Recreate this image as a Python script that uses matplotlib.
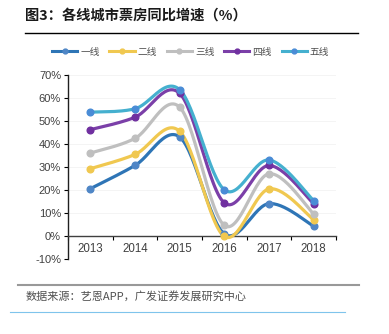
import numpy as np
import matplotlib
matplotlib.use("Agg")
import matplotlib.pyplot as plt
from matplotlib.lines import Line2D

plt.rcParams['font.family'] = ['Liberation Sans', 'Noto Sans CJK SC', 'DejaVu Sans']
CJK = ['Noto Sans CJK SC', 'DejaVu Sans']

years = ["2013", "2014", "2015", "2016", "2017", "2018"]
names = ["一线", "二线", "三线", "四线", "五线"]
tier1 = [20.5, 30.6, 43.0, 0.8, 14.0, 4.2]
tier2 = [29.2, 35.4, 45.5, -0.3, 20.4, 7.0]
tier3 = [36.0, 42.4, 56.0, 4.5, 27.0, 9.5]
tier4 = [46.2, 51.6, 62.0, 14.3, 30.6, 14.0]
tier5 = [53.8, 55.3, 63.6, 20.0, 33.0, 15.3]
series = [tier1, tier2, tier3, tier4, tier5]
line_cols = ["#2E75B6", "#F0C850", "#BFBFBF", "#7B3FA8", "#45B0CF"]
mark_cols = ["#4F86C6", "#F0C850", "#BFBFBF", "#7030A0", "#4A8CD6"]

def smooth(x, y, n=30):
    # excel-like smoothed line (catmull-rom as cubic bezier)
    P = np.column_stack([x, y]).astype(float)
    P = np.vstack([P[0], P, P[-1]])
    out = []
    for i in range(1, len(P) - 2):
        p0, p1, p2, p3 = P[i-1], P[i], P[i+1], P[i+2]
        c1 = p1 + (p2 - p0) / 6; c2 = p2 - (p3 - p1) / 6
        t = np.linspace(0, 1, n)[:, None]
        b = (1-t)**3*p1 + 3*(1-t)**2*t*c1 + 3*(1-t)*t**2*c2 + t**3*p2
        out.append(b if i == 1 else b[1:])
    b = np.vstack(out)
    return b[:, 0], b[:, 1]

fig = plt.figure(figsize=(3.89, 3.34), dpi=100)
fig.patch.set_facecolor("white")
ax = fig.add_axes([0.1748, 0.2254, 0.689, 0.55])

x = np.arange(len(years))
for s, lc, mc in zip(series, line_cols, mark_cols):
    sx, sy = smooth(x, s)
    ax.plot(sx, sy, color=lc, lw=2.3, solid_capstyle="round", zorder=3)
    ax.plot(x, s, "o", color=mc, ms=4.8, zorder=4)

ax.set_xlim(-0.5, 5.5)
ax.set_ylim(-10, 70)
for v in range(-10, 71, 10):
    ax.axhline(v, color="#F2F2F2", lw=0.6, zorder=0)

for sp in ["top", "right"]:
    ax.spines[sp].set_visible(False)
ax.spines["bottom"].set_position(("data", 0))
ax.spines["bottom"].set_color("#404040")
ax.spines["left"].set_color("#202020")
ax.spines["left"].set_linewidth(1.0)
ax.spines["bottom"].set_linewidth(1.0)

ax.set_yticks(range(-10, 71, 10))
ax.set_yticklabels([f"{v}%" for v in range(-10, 71, 10)], fontsize=8, color="#404040")
ax.tick_params(axis="y", length=3, width=0.8, pad=2)
ax.set_xticks(np.arange(-0.5, 5.6, 1))
ax.set_xticklabels([])
ax.set_xticks(x, minor=True)
ax.set_xticklabels(years, minor=True, fontsize=8.3, color="#404040")
ax.tick_params(axis="x", which="major", length=3, width=0.8, direction="out")
ax.tick_params(axis="x", which="minor", length=0, pad=5)

handles = [Line2D([], [], color=lc, lw=2.2, marker="o", ms=3.5, mfc=mc, mec=mc)
           for lc, mc in zip(line_cols, mark_cols)]
fig.legend(handles, names, loc="center", bbox_to_anchor=(0.49, 0.845), ncol=5, frameon=False,
           prop={"family": CJK, "size": 7}, handlelength=2.6, handletextpad=0.3, columnspacing=1.0,
           labelcolor="#505050")

fig.text(0.064, 0.952, "图3：各线城市票房同比增速（%）", fontsize=10.3, fontweight="bold",
         family=CJK, color="#1a1a1a", va="center")
fig.add_artist(Line2D([0.064, 0.92], [0.901, 0.901], color="black", lw=1.0))
fig.add_artist(Line2D([0.046, 0.922], [0.147, 0.147], color="#999999", lw=1.5))
fig.text(0.067, 0.112, "数据来源：艺恩APP，广发证券发展研究中心", fontsize=8, family=CJK,
         color="#505050", va="center")
fig.add_artist(Line2D([0.026, 0.888], [0.066, 0.066], color="#7FC4EC", lw=0.8))

fig.savefig("out.png", dpi=100)
